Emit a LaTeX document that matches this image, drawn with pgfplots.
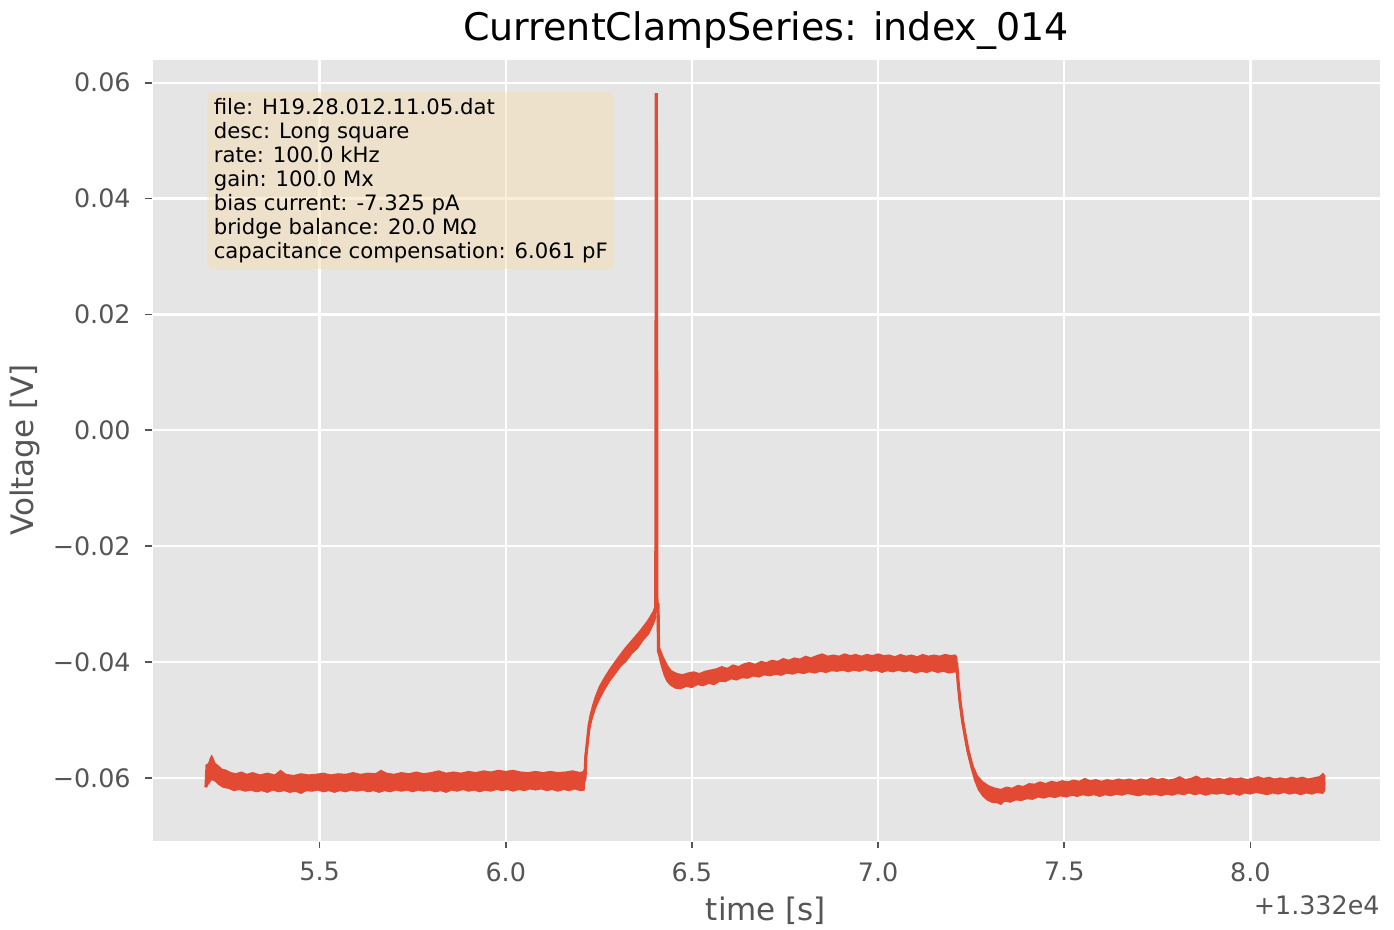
\documentclass[border=0pt]{standalone}
\usepackage{fontspec}
\setmainfont{DejaVu Sans}
\usepackage{pgfplots}
\pgfplotsset{compat=1.18}
\definecolor{bg}{HTML}{E5E5E5}
\definecolor{trace}{HTML}{E24A33}
\definecolor{tickgray}{HTML}{555555}
\definecolor{wheat}{RGB}{245,222,179}

\begin{document}
\begin{tikzpicture}
\begin{axis}[
  name=ax,
  scale only axis,
  width=614pt, height=391pt,
  xmin=5.05, xmax=8.348,
  ymin=-0.0709, ymax=0.0641,
  scaled y ticks=false, scaled x ticks=false,
  axis background/.style={fill=bg},
  axis line style={white},
  grid=major,
  major grid style={white, line width=1.1pt},
  xtick={5.5,6.0,6.5,7.0,7.5,8.0},
  xticklabels={5.5,6.0,6.5,7.0,7.5,8.0},
  ytick={-0.06,-0.04,-0.02,0,0.02,0.04,0.06},
  yticklabels={−0.06,−0.04,−0.02,0.00,0.02,0.04,0.06},
  xtick pos=bottom, ytick pos=left,
  tick align=outside,
  major tick length=3.5pt,
  tick style={tickgray, line width=0.8pt},
  ticklabel style={font=\fontsize{12.7}{15}\selectfont, text=tickgray, inner sep=0pt},
  xticklabel style={anchor=north, yshift=-7pt},
  yticklabel style={anchor=east, xshift=-7pt},
  xlabel={time [s]}, ylabel={Voltage [V]},
  label style={font=\fontsize{15.5}{18}\selectfont, text=tickgray, inner sep=0pt},
  xlabel style={at={(axis description cs:0.5,-0.1023)}, anchor=base},
  ylabel style={at={(axis description cs:-0.0969,0.5)}, anchor=base},
  title={CurrentClampSeries: index\_014},
  title style={font=\fontsize{19}{22}\selectfont, inner sep=0pt,
    at={(axis description cs:0.5,1.0089)}, anchor=base},
]
% noise band: upper edge forward, lower edge back
\addplot[fill=trace, draw=none] coordinates {
(5.195,-0.0612) (5.198,-0.0578) (5.203,-0.0572) (5.207,-0.0563) (5.211,-0.0560)
(5.215,-0.0566) (5.220,-0.0574) (5.228,-0.0578) (5.238,-0.0584) (5.250,-0.0586)
(5.262,-0.0590) (5.275,-0.0592) (5.290,-0.0589) (5.305,-0.0593) (5.320,-0.0590)
(5.340,-0.0594) (5.360,-0.0591) (5.380,-0.0594) (5.395,-0.0586) (5.410,-0.0593)
(5.430,-0.0595) (5.450,-0.0592) (5.470,-0.0594) (5.490,-0.0593) (5.510,-0.0591)
(5.530,-0.0594) (5.550,-0.0592) (5.570,-0.0593) (5.590,-0.0590) (5.610,-0.0593)
(5.630,-0.0591) (5.650,-0.0592) (5.665,-0.0586) (5.680,-0.0591) (5.700,-0.0593)
(5.720,-0.0590) (5.740,-0.0592) (5.760,-0.0589) (5.780,-0.0592) (5.800,-0.0590)
(5.820,-0.0587) (5.840,-0.0591) (5.860,-0.0589) (5.880,-0.0591) (5.900,-0.0588)
(5.920,-0.0590) (5.940,-0.0587) (5.960,-0.0589) (5.980,-0.0586) (6.000,-0.0588)
(6.020,-0.0586) (6.040,-0.0589) (6.060,-0.0590) (6.080,-0.0588) (6.100,-0.0590)
(6.120,-0.0588) (6.140,-0.0590) (6.160,-0.0589) (6.180,-0.0587) (6.200,-0.0590)
(6.208,-0.0588) (6.210,-0.0585) (6.212,-0.0560) (6.216,-0.0545) (6.220,-0.0522)
(6.225,-0.0496) (6.231,-0.0477) (6.239,-0.0460) (6.250,-0.0442) (6.265,-0.0425)
(6.280,-0.0410) (6.300,-0.0392) (6.320,-0.0375) (6.340,-0.0360) (6.360,-0.0345)
(6.380,-0.0328) (6.395,-0.0312) (6.403,-0.0296) (6.409,-0.0372) (6.415,-0.0376)
(6.425,-0.0392) (6.435,-0.0405) (6.445,-0.0414) (6.460,-0.0419) (6.475,-0.0421)
(6.490,-0.0418) (6.505,-0.0416) (6.520,-0.0419) (6.535,-0.0415) (6.550,-0.0413)
(6.565,-0.0411) (6.580,-0.0407) (6.595,-0.0410) (6.610,-0.0404) (6.625,-0.0407)
(6.640,-0.0402) (6.655,-0.0400) (6.670,-0.0403) (6.685,-0.0398) (6.700,-0.0400)
(6.715,-0.0396) (6.730,-0.0398) (6.745,-0.0393) (6.760,-0.0396) (6.775,-0.0392)
(6.790,-0.0394) (6.805,-0.0389) (6.820,-0.0392) (6.835,-0.0388) (6.850,-0.0385)
(6.865,-0.0389) (6.880,-0.0387) (6.895,-0.0389) (6.910,-0.0385) (6.925,-0.0388)
(6.940,-0.0386) (6.955,-0.0389) (6.970,-0.0386) (6.985,-0.0388) (7.000,-0.0385)
(7.015,-0.0388) (7.030,-0.0387) (7.045,-0.0390) (7.060,-0.0386) (7.075,-0.0389)
(7.090,-0.0387) (7.105,-0.0390) (7.120,-0.0386) (7.135,-0.0389) (7.150,-0.0387)
(7.165,-0.0389) (7.180,-0.0386) (7.195,-0.0388) (7.205,-0.0387) (7.210,-0.0388)
(7.213,-0.0392) (7.215,-0.0415) (7.219,-0.0445) (7.226,-0.0482) (7.235,-0.0520)
(7.245,-0.0552) (7.256,-0.0578) (7.268,-0.0596) (7.282,-0.0606) (7.298,-0.0613)
(7.315,-0.0617) (7.330,-0.0619) (7.345,-0.0615) (7.360,-0.0617) (7.375,-0.0612)
(7.390,-0.0614) (7.405,-0.0609) (7.420,-0.0610) (7.435,-0.0606) (7.450,-0.0609)
(7.465,-0.0605) (7.480,-0.0607) (7.495,-0.0604) (7.510,-0.0606) (7.525,-0.0603)
(7.540,-0.0605) (7.555,-0.0600) (7.570,-0.0604) (7.585,-0.0602) (7.600,-0.0605)
(7.615,-0.0602) (7.630,-0.0604) (7.645,-0.0601) (7.660,-0.0603) (7.675,-0.0601)
(7.690,-0.0604) (7.705,-0.0601) (7.720,-0.0603) (7.735,-0.0599) (7.750,-0.0602)
(7.765,-0.0600) (7.780,-0.0603) (7.795,-0.0601) (7.810,-0.0597) (7.825,-0.0602)
(7.840,-0.0600) (7.855,-0.0596) (7.870,-0.0601) (7.885,-0.0599) (7.900,-0.0602)
(7.915,-0.0600) (7.930,-0.0602) (7.945,-0.0599) (7.960,-0.0601) (7.975,-0.0599)
(7.990,-0.0602) (8.005,-0.0600) (8.020,-0.0597) (8.035,-0.0600) (8.050,-0.0598)
(8.065,-0.0601) (8.080,-0.0599) (8.095,-0.0601) (8.110,-0.0598) (8.125,-0.0600)
(8.140,-0.0598) (8.155,-0.0601) (8.170,-0.0599) (8.185,-0.0597) (8.195,-0.0591)
(8.201,-0.0596)
(8.201,-0.0622) (8.195,-0.0628) (8.180,-0.0626) (8.165,-0.0629) (8.150,-0.0627)
(8.135,-0.0630) (8.120,-0.0627) (8.105,-0.0629) (8.090,-0.0626) (8.075,-0.0629)
(8.060,-0.0627) (8.045,-0.0630) (8.030,-0.0628) (8.015,-0.0626) (8.000,-0.0629)
(7.985,-0.0627) (7.970,-0.0631) (7.955,-0.0628) (7.940,-0.0630) (7.925,-0.0627)
(7.910,-0.0629) (7.895,-0.0628) (7.880,-0.0631) (7.865,-0.0628) (7.850,-0.0630)
(7.835,-0.0627) (7.820,-0.0630) (7.805,-0.0628) (7.790,-0.0631) (7.775,-0.0629)
(7.760,-0.0632) (7.745,-0.0629) (7.730,-0.0631) (7.715,-0.0629) (7.700,-0.0632)
(7.685,-0.0630) (7.670,-0.0628) (7.655,-0.0631) (7.640,-0.0629) (7.625,-0.0632)
(7.610,-0.0630) (7.595,-0.0633) (7.580,-0.0630) (7.565,-0.0632) (7.550,-0.0630)
(7.535,-0.0633) (7.520,-0.0631) (7.505,-0.0634) (7.490,-0.0632) (7.475,-0.0635)
(7.460,-0.0633) (7.445,-0.0636) (7.430,-0.0634) (7.415,-0.0638) (7.400,-0.0637)
(7.385,-0.0640) (7.370,-0.0639) (7.355,-0.0643) (7.340,-0.0641) (7.330,-0.0647)
(7.320,-0.0644) (7.305,-0.0643) (7.292,-0.0639) (7.280,-0.0632) (7.268,-0.0621)
(7.258,-0.0605) (7.249,-0.0584) (7.240,-0.0560) (7.231,-0.0530) (7.222,-0.0494)
(7.217,-0.0462) (7.214,-0.0430) (7.213,-0.0419) (7.205,-0.0418) (7.190,-0.0420)
(7.175,-0.0417) (7.160,-0.0419) (7.145,-0.0416) (7.130,-0.0419) (7.115,-0.0417)
(7.100,-0.0420) (7.085,-0.0416) (7.070,-0.0418) (7.055,-0.0415) (7.040,-0.0418)
(7.025,-0.0416) (7.010,-0.0419) (6.995,-0.0415) (6.980,-0.0417) (6.965,-0.0414)
(6.950,-0.0417) (6.935,-0.0415) (6.920,-0.0418) (6.905,-0.0415) (6.890,-0.0417)
(6.875,-0.0416) (6.860,-0.0419) (6.845,-0.0417) (6.830,-0.0420) (6.815,-0.0418)
(6.800,-0.0421) (6.785,-0.0419) (6.770,-0.0422) (6.755,-0.0420) (6.740,-0.0424)
(6.725,-0.0422) (6.710,-0.0425) (6.695,-0.0423) (6.680,-0.0427) (6.665,-0.0425)
(6.650,-0.0429) (6.635,-0.0428) (6.620,-0.0432) (6.605,-0.0430) (6.590,-0.0435)
(6.575,-0.0434) (6.560,-0.0440) (6.545,-0.0438) (6.530,-0.0442) (6.515,-0.0440)
(6.500,-0.0445) (6.485,-0.0443) (6.470,-0.0447) (6.455,-0.0446) (6.442,-0.0441)
(6.432,-0.0434) (6.424,-0.0423) (6.417,-0.0408) (6.412,-0.0396) (6.410,-0.0388)
(6.405,-0.0322) (6.398,-0.0335) (6.385,-0.0352) (6.370,-0.0363) (6.355,-0.0377)
(6.340,-0.0386) (6.325,-0.0399) (6.310,-0.0408) (6.295,-0.0421) (6.280,-0.0434)
(6.265,-0.0450) (6.252,-0.0466) (6.242,-0.0481) (6.234,-0.0497) (6.227,-0.0515)
(6.221,-0.0540) (6.217,-0.0566) (6.214,-0.0600) (6.212,-0.0622) (6.200,-0.0623)
(6.185,-0.0620) (6.170,-0.0623) (6.155,-0.0621) (6.140,-0.0624) (6.125,-0.0621)
(6.110,-0.0623) (6.095,-0.0620) (6.080,-0.0622) (6.065,-0.0620) (6.050,-0.0623)
(6.035,-0.0621) (6.020,-0.0624) (6.005,-0.0621) (5.990,-0.0623) (5.975,-0.0621)
(5.960,-0.0624) (5.945,-0.0622) (5.930,-0.0625) (5.915,-0.0622) (5.900,-0.0624)
(5.885,-0.0621) (5.870,-0.0624) (5.855,-0.0622) (5.840,-0.0626) (5.825,-0.0623)
(5.810,-0.0625) (5.795,-0.0622) (5.780,-0.0624) (5.765,-0.0622) (5.750,-0.0625)
(5.735,-0.0622) (5.720,-0.0624) (5.705,-0.0622) (5.690,-0.0625) (5.675,-0.0623)
(5.660,-0.0626) (5.645,-0.0623) (5.630,-0.0625) (5.615,-0.0622) (5.600,-0.0624)
(5.585,-0.0622) (5.570,-0.0625) (5.555,-0.0623) (5.540,-0.0626) (5.525,-0.0623)
(5.510,-0.0625) (5.495,-0.0622) (5.480,-0.0624) (5.465,-0.0623) (5.450,-0.0628)
(5.435,-0.0624) (5.420,-0.0626) (5.405,-0.0623) (5.390,-0.0625) (5.375,-0.0622)
(5.360,-0.0626) (5.345,-0.0623) (5.330,-0.0625) (5.315,-0.0622) (5.300,-0.0624)
(5.285,-0.0621) (5.270,-0.0623) (5.255,-0.0619) (5.240,-0.0617) (5.228,-0.0612)
(5.218,-0.0606) (5.210,-0.0604) (5.204,-0.0610) (5.199,-0.0614) (5.195,-0.0618)
};
% centre trace with the spike
\addplot[trace, line width=1.6pt, line join=bevel] coordinates {
(5.195,-0.0616) (5.198,-0.0578) (5.204,-0.0578) (5.210,-0.0566) (5.216,-0.0578)
(5.225,-0.0590) (5.240,-0.0598) (5.260,-0.0604) (5.300,-0.0608) (5.400,-0.0609)
(5.600,-0.0608) (5.800,-0.0607) (6.000,-0.0605) (6.100,-0.0606) (6.210,-0.0606)
(6.213,-0.0600) (6.215,-0.0565) (6.219,-0.0540) (6.224,-0.0510) (6.230,-0.0490)
(6.238,-0.0473) (6.250,-0.0455) (6.265,-0.0438) (6.280,-0.0424) (6.300,-0.0404)
(6.320,-0.0388) (6.340,-0.0373) (6.360,-0.0358) (6.380,-0.0342) (6.395,-0.0325)
(6.4030,-0.0308) (6.4045,0.0582) (6.4060,-0.0298) (6.4090,-0.0300) (6.4105,-0.0382)
(6.416,-0.0392) (6.425,-0.0408) (6.440,-0.0423) (6.460,-0.0432) (6.490,-0.0431)
(6.550,-0.0426) (6.620,-0.0416) (6.700,-0.0410) (6.800,-0.0404) (6.900,-0.0401)
(7.000,-0.0400) (7.100,-0.0402) (7.211,-0.0402) (7.215,-0.0435) (7.220,-0.0468)
(7.228,-0.0506) (7.241,-0.0552) (7.254,-0.0585) (7.265,-0.0602) (7.280,-0.0617)
(7.300,-0.0627) (7.326,-0.0632) (7.350,-0.0631) (7.400,-0.0624) (7.450,-0.0620)
(7.500,-0.0618) (7.700,-0.0616) (7.900,-0.0614) (8.100,-0.0613) (8.201,-0.0610)
};
\node[anchor=north west, xshift=-3.2pt, yshift=3.2pt,
  fill=wheat, fill opacity=0.5, text opacity=1, rounded corners=3pt,
  inner sep=3.2pt, align=left, font=\fontsize{10.6}{11.95}\selectfont]
  at (axis description cs:0.05,0.95) {file: H19.28.012.11.05.dat\\
desc: Long square\\
rate: 100.0 kHz\\
gain: 100.0 Mx\\
bias current: -7.325 pA\\
bridge balance: 20.0 MΩ\\
capacitance compensation: 6.061 pF};
\end{axis}
\node[anchor=base east, inner sep=0pt, text=tickgray, font=\fontsize{12.7}{15}\selectfont]
  at ([yshift=-37pt]ax.south east) {+1.332e4};
\pgfresetboundingbox
\path[use as bounding box] ([xshift=-76pt,yshift=-44.5pt]ax.south west)
  rectangle ([xshift=7pt,yshift=29.5pt]ax.north east);
\end{tikzpicture}
\end{document}
